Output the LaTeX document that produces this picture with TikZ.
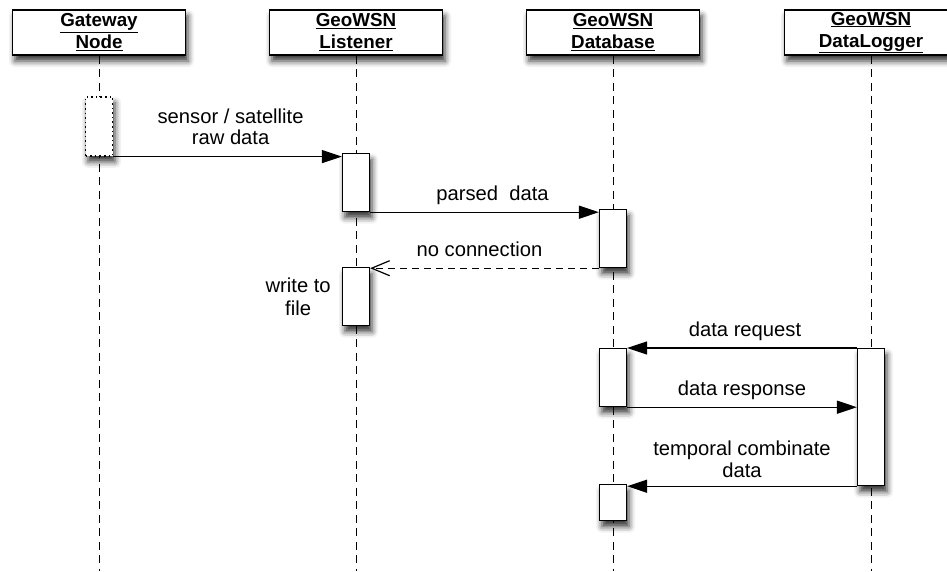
\documentclass[tikz,border=0pt]{standalone}
\usepackage{fontspec}
\setmainfont{Liberation Sans}
\usetikzlibrary{arrows.meta,shadows.blur}

\begin{document}
\begin{tikzpicture}[x=1pt,y=-1pt,
  soft/.style={blur shadow={shadow xshift=2.5pt,shadow yshift=-6pt,
      shadow blur radius=6pt,shadow opacity=80}},
  actor/.style={draw,fill=white,line width=1.3pt,minimum width=173pt,
      minimum height=45pt,inner sep=0pt,align=center,
      font=\fontsize{18.8}{22}\selectfont\bfseries,soft},
  act/.style={draw,fill=white,line width=1.2pt,minimum width=27pt,
      inner sep=0pt,anchor=north,soft},
  lifeline/.style={line width=1pt,dash pattern=on 8pt off 5.5pt},
  msg/.style={line width=1.2pt,-{Triangle[length=20pt,width=13pt]}},
  reply/.style={line width=1.2pt,dash pattern=on 7pt off 5pt,
      -{Straight Barb[length=18pt,width=15pt,line width=1.2pt]}},
  lbl/.style={anchor=base,yshift=12pt,align=center,inner sep=0pt,
      font=\fontsize{20.2}{21.5}\selectfont},
]
\useasboundingbox (0,0) rectangle (947,571);
\coordinate (bottom) at (0,571);

% participants
\node[actor] (gw) at (99,32.5)  {\underline{Gateway}\\\underline{Node}};
\node[actor] (ls) at (356,32.5) {\underline{GeoWSN}\\\underline{Listener}};
\node[actor] (db) at (613,32.5) {\underline{GeoWSN}\\\underline{Database}};
\node[actor] (dl) at (871,32.5) {\underline{GeoWSN}\\\underline{DataLogger}};

% lifelines
\foreach \p in {gw,ls,db,dl}
  \draw[lifeline] (\p.south) -- (\p.south |- bottom);

% activations
\node[act,minimum height=59pt,line width=1.6pt,
      dash pattern=on 1.6pt off 3pt] (ga) at (99,96) {};
\node[act,minimum height=58pt]  (l1) at (356,153) {};
\node[act,minimum height=58pt]  (d1) at (613,209) {};
\node[act,minimum height=58pt]  (l2) at (356,267) {};
\node[act,minimum height=137pt] (g1) at (871,348) {};
\node[act,minimum height=58pt]  (d2) at (613,348) {};
\node[act,minimum height=36pt]  (d3) at (613,484) {};

% messages
\draw[msg] (ga.south east) -- (ga.south east -| l1.west)
  node[midway,lbl,xshift=3pt] {sensor / satellite\\raw data};
\draw[msg] (l1.south east) -- (l1.south east -| d1.west)
  node[midway,lbl,xshift=8pt] {parsed\ \ data};
\draw[reply] (d1.south west) -- (d1.south west -| l2.east)
  node[midway,lbl,xshift=-5pt] {no connection};
\draw[msg] (g1.north west) -- (g1.north west -| d2.east)
  node[midway,lbl,xshift=3pt] {data request};
\draw[msg] (d2.south east) -- (d2.south east -| g1.west)
  node[midway,lbl] {data response};
\draw[msg] (g1.south west) -- (g1.south west -| d3.east)
  node[midway,lbl,yshift=-3pt] {temporal combinate\\data};

% note beside the second listener activation
\node[anchor=east,align=center,inner sep=0pt,
      font=\fontsize{20.2}{22.5}\selectfont] (wf)
  at ([xshift=-11pt]l2.west) {write to\\file};
\end{tikzpicture}
\end{document}
